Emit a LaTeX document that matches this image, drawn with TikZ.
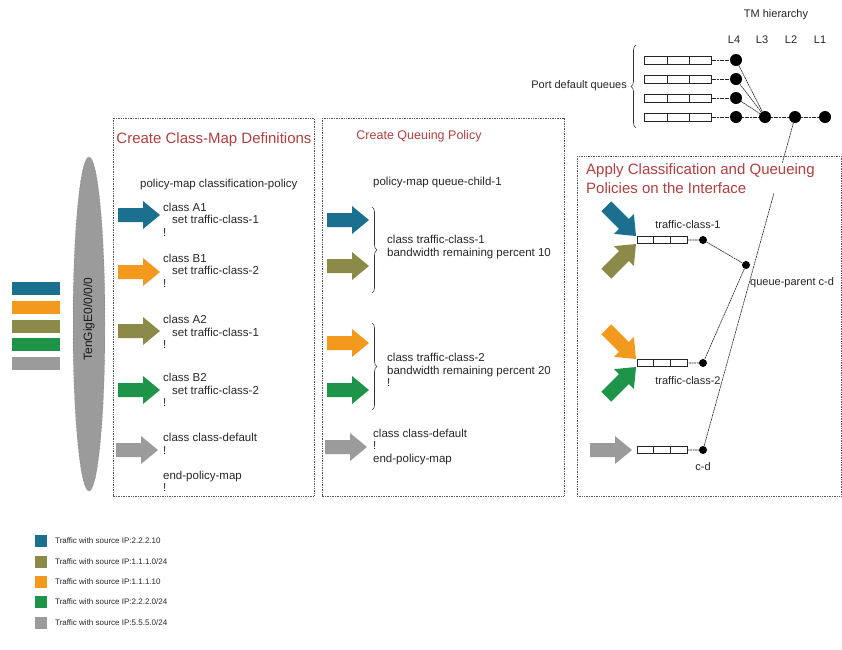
\documentclass[tikz,border=0pt]{standalone}
\usepackage{fontspec}
\setmainfont{Liberation Sans}
\usetikzlibrary{decorations.pathreplacing,calc,shapes.geometric}
\definecolor{cblue}{HTML}{1B6F8F}
\definecolor{corange}{HTML}{F39A1E}
\definecolor{colive}{HTML}{8C8A48}
\definecolor{cgreen}{HTML}{1E9448}
\definecolor{cgray}{HTML}{9B9B9B}
\definecolor{ctitle}{HTML}{B04040}
\begin{document}
\begin{tikzpicture}[x=1pt,y=-1pt,
  panel/.style={draw=black!65, line width=0.7pt, densely dotted},
  body/.style={font=\fontsize{11.5}{12.5}\selectfont, text=black!85, inner sep=0pt, anchor=west, align=left},
  lbl/.style={font=\fontsize{11}{12}\selectfont, text=black!85, inner sep=0pt},
  legtext/.style={font=\fontsize{8}{9}\selectfont, text=black!85, inner sep=0pt, anchor=west},
  bigtitle/.style={font=\fontsize{15}{19}\selectfont, text=ctitle, inner sep=0pt},
  bigdot/.style={circle, fill=black, minimum size=12pt, inner sep=0pt},
  smalldot/.style={circle, fill=black, minimum size=8pt, inner sep=0pt},
  conn/.style={draw=black!85, line width=0.6pt, dash pattern=on 2pt off 0.6pt},
  qbox/.style={draw=black!85, line width=0.6pt, fill=white, inner sep=0pt, minimum height=8pt, minimum width=#1,
    path picture={\draw[black!85, line width=0.6pt]
      ($(path picture bounding box.north west)!0.3333!(path picture bounding box.north east)$) --
      ($(path picture bounding box.south west)!0.3333!(path picture bounding box.south east)$)
      ($(path picture bounding box.north west)!0.6667!(path picture bounding box.north east)$) --
      ($(path picture bounding box.south west)!0.6667!(path picture bounding box.south east)$);}},
  bar/.style={fill=#1, minimum width=48pt, minimum height=13pt, inner sep=0pt},
  legsq/.style={fill=#1, minimum size=12pt, inner sep=0pt},
  barrow/.pic={\fill[#1] (-42,-7) -- (-17,-7) -- (-17,-14) -- (0,0) -- (-17,14) -- (-17,7) -- (-42,7) -- cycle;},
  brc/.style={draw=black!80, line width=0.6pt, decorate, decoration={brace, amplitude=5pt}}
]
\useasboundingbox (0,0) rectangle (842,649);

% ---------- panels ----------
\draw[panel] (113,118) rectangle (314,496);
\draw[panel] (322,118) rectangle (564,496);
\draw[panel] (577,156) rectangle (841,496);

% ---------- input port ----------
\node (port) [ellipse, fill=cgray, draw=black!60, densely dotted, minimum width=32pt, minimum height=334pt, inner sep=0pt] at (89,324) {};
\node (portlbl) [rotate=90, font=\fontsize{12}{14}\selectfont, text=black!90, inner sep=0pt] at (89,319) {TenGigE0/0/0/0};
\node (b1) [bar=cblue]   at (36,288) {};
\node (b2) [bar=corange] at (36,307) {};
\node (b3) [bar=colive]  at (36,326) {};
\node (b4) [bar=cgreen]  at (36,344) {};
\node (b5) [bar=cgray]   at (36,363) {};

% ---------- class-map panel ----------
\node (t1) [bigtitle] at (214,140) {Create Class-Map Definitions};
\node (pm1) [body] at (140,185) {policy-map classification-policy};
\pic at (160,215) {barrow=cblue};
\pic at (160,272) {barrow=corange};
\pic at (160,331) {barrow=colive};
\pic at (160,390) {barrow=cgreen};
\pic at (158,450) {barrow=cgray};
\node (ca1) [body] at (163,219.5) {class A1\\\hspace*{9pt}set traffic-class-1\\!};
\node (cb1) [body] at (163,270.5) {class B1\\\hspace*{9pt}set traffic-class-2\\!};
\node (ca2) [body] at (163,332) {class A2\\\hspace*{9pt}set traffic-class-1\\!};
\node (cb2) [body] at (163,390) {class B2\\\hspace*{9pt}set traffic-class-2\\!};
\node (cd1) [body] at (163,462.5) {class class-default\\!\\[12.5pt]end-policy-map\\!};

% ---------- queuing policy panel ----------
\node (t2) [font=\fontsize{12.5}{15}\selectfont, text=ctitle, inner sep=0pt] at (419,136) {Create Queuing Policy};
\node (pm2) [body] at (373,183) {policy-map queue-child-1};
\pic at (369,220) {barrow=cblue};
\pic at (369,266) {barrow=colive};
\pic at (369,343) {barrow=corange};
\pic at (369,390) {barrow=cgreen};
\pic at (367,447) {barrow=cgray};
\draw[brc] (372,207) -- (372,293);
\draw[brc] (372,323) -- (372,410);
\node (qc1) [body] at (387,247) {class traffic-class-1\\bandwidth remaining percent 10};
\node (qc2) [body] at (387,370) {class traffic-class-2\\bandwidth remaining percent 20\\!};
\node (qcd) [body] at (373,447) {class class-default\\!\\end-policy-map};

% ---------- TM hierarchy ----------
\node (tmh) [lbl] at (776,15) {TM hierarchy};
\node (l4) [lbl] at (734,40) {L4};
\node (l3) [lbl] at (762,40) {L3};
\node (l2) [lbl] at (791,40) {L2};
\node (l1) [lbl] at (820,40) {L1};
\node (pq1) [qbox=67pt] at (678,60) {};
\node (pq2) [qbox=67pt] at (678,79) {};
\node (pq3) [qbox=67pt] at (678,98) {};
\node (pq4) [qbox=67pt] at (678,117) {};
\node (d41) [bigdot] at (736,60) {};
\node (d42) [bigdot] at (736,79) {};
\node (d43) [bigdot] at (736,98) {};
\node (d44) [bigdot] at (736,117) {};
\node (d3) [bigdot] at (765,117) {};
\node (d2) [bigdot] at (795,117) {};
\node (d1) [bigdot] at (825,117) {};
\draw[conn] (pq1) -- (d41);
\draw[conn] (pq2) -- (d42);
\draw[conn] (pq3) -- (d43);
\draw[conn] (pq4) -- (d44) -- (d3) -- (d2) -- (d1);
\draw[conn] (d41) -- (d3);
\draw[conn] (d42) -- (d3);
\draw[conn] (d43) -- (d3);
\draw[brc] (636,128) -- (636,45);
\node (pdq) [lbl, anchor=east] at (627,86) {Port default queues};

% ---------- interface panel ----------
\node (tq1) [qbox=50pt, minimum height=7pt] at (662,240) {};
\node (tq2) [qbox=50pt, minimum height=7pt] at (662,363) {};
\node (tqd) [qbox=50pt, minimum height=7pt] at (662,450) {};
\node (s1) [smalldot] at (703,240) {};
\node (s2) [smalldot] at (703,363) {};
\node (sd) [smalldot] at (703,450) {};
\node (qp) [smalldot] at (746,265) {};
\draw[conn] (tq1) -- (s1) -- (qp) -- (s2) -- (tq2);
\draw[conn] (tqd) -- (sd) -- (d2);
\node (t3) [bigtitle, anchor=north west, align=left, fill=white] at (586,163) {Apply Classification and Queueing\\Policies on the Interface};
\pic[rotate=-45] at (636,236) {barrow=cblue};
\pic[rotate=45] at (636,244) {barrow=colive};
\pic[rotate=-45] at (636,359) {barrow=corange};
\pic[rotate=45] at (636,367) {barrow=cgreen};
\pic at (632,450) {barrow=cgray};
\node (tl1) [lbl] at (688,225) {traffic-class-1};
\node (tl2) [lbl] at (688,381) {traffic-class-2};
\node (tld) [lbl] at (703,467) {c-d};
\node (qpl) [lbl, anchor=west] at (750,283) {queue-parent c-d};

% ---------- legend ----------
\node (g1) [legsq=cblue]   at (41,541) {};
\node (g2) [legsq=colive]  at (41,562) {};
\node (g3) [legsq=corange] at (41,582) {};
\node (g4) [legsq=cgreen]  at (41,602) {};
\node (g5) [legsq=cgray]   at (41,623) {};
\node (gt1) [legtext] at (55,541) {Traffic with source IP:2.2.2.10};
\node (gt2) [legtext] at (55,562) {Traffic with source IP:1.1.1.0/24};
\node (gt3) [legtext] at (55,582) {Traffic with source IP:1.1.1.10};
\node (gt4) [legtext] at (55,602) {Traffic with source IP:2.2.2.0/24};
\node (gt5) [legtext] at (55,623) {Traffic with source IP:5.5.5.0/24};
\end{tikzpicture}
\end{document}
